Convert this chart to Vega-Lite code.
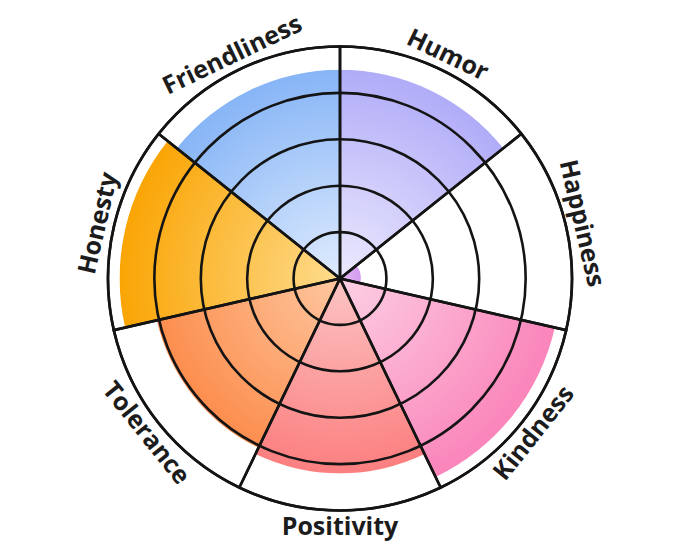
{
  "$schema": "https://vega.github.io/schema/vega-lite/v6.json",
  "width": 680,
  "height": 557,
  "autosize": {"type": "fit", "contains": "padding"},
  "padding": 0,
  "background": "white",
  "config": {"view": {"stroke": null}},
  "datasets": {
    "traits": [
      {"idx": 1, "trait": "Humor", "score": 9.0},
      {"idx": 2, "trait": "Happiness", "score": 0.9},
      {"idx": 3, "trait": "Kindness", "score": 9.5},
      {"idx": 4, "trait": "Positivity", "score": 8.4},
      {"idx": 5, "trait": "Tolerance", "score": 8.1},
      {"idx": 6, "trait": "Honesty", "score": 9.5},
      {"idx": 7, "trait": "Friendliness", "score": 9.0}
    ],
    "rings": [
      {"level": 2}, {"level": 4}, {"level": 6}, {"level": 8}, {"level": 10}
    ]
  },
  "layer": [
    {
      "data": {"name": "traits"},
      "mark": {"type": "arc", "strokeWidth": 0},
      "encoding": {
        "theta": {"aggregate": "count", "type": "quantitative", "stack": true},
        "order": {"field": "idx", "type": "quantitative"},
        "detail": [{"field": "trait", "type": "nominal"}, {"field": "score", "type": "quantitative"}],
        "radius": {"value": {"expr": "scale('radius', datum.score)"}},
        "color": {
          "condition": [
            {"test": "datum.trait === 'Humor'", "value": {"gradient": "radial", "x1": 0.109, "y1": 1, "r1": 0, "x2": 0.109, "y2": 1, "r2": 1, "stops": [{"offset": 0, "color": "#eceafe"}, {"offset": 1, "color": "#b1acf8"}]}},
            {"test": "datum.trait === 'Happiness'", "value": {"gradient": "radial", "x1": 0, "y1": 0.70, "r1": 0, "x2": 0, "y2": 0.70, "r2": 1, "stops": [{"offset": 0, "color": "#e2b8f6"}, {"offset": 1, "color": "#d49cf0"}]}},
            {"test": "datum.trait === 'Kindness'", "value": {"gradient": "radial", "x1": 0, "y1": 0.038, "r1": 0, "x2": 0, "y2": 0.038, "r2": 1, "stops": [{"offset": 0, "color": "#fdd0e4"}, {"offset": 1, "color": "#fa86bb"}]}},
            {"test": "datum.trait === 'Positivity'", "value": {"gradient": "radial", "x1": 0.5, "y1": 0, "r1": 0, "x2": 0.5, "y2": 0, "r2": 1, "stops": [{"offset": 0, "color": "#fcc4c4"}, {"offset": 1, "color": "#fc7f80"}]}},
            {"test": "datum.trait === 'Tolerance'", "value": {"gradient": "radial", "x1": 1, "y1": 0.038, "r1": 0, "x2": 1, "y2": 0.038, "r2": 1, "stops": [{"offset": 0, "color": "#fec7a0"}, {"offset": 1, "color": "#fc8f50"}]}},
            {"test": "datum.trait === 'Honesty'", "value": {"gradient": "radial", "x1": 1, "y1": 0.70, "r1": 0, "x2": 1, "y2": 0.70, "r2": 1, "stops": [{"offset": 0, "color": "#fedc8e"}, {"offset": 1, "color": "#faa505"}]}}
          ],
          "value": {"gradient": "radial", "x1": 0.891, "y1": 1, "r1": 0, "x2": 0.891, "y2": 1, "r2": 1, "stops": [{"offset": 0, "color": "#e0ecfe"}, {"offset": 1, "color": "#87b5f6"}]}
        }
      }
    },
    {
      "data": {"name": "rings"},
      "mark": {"type": "arc", "filled": false, "stroke": "#141414", "strokeWidth": 2.6},
      "encoding": {
        "radius": {"field": "level", "type": "quantitative", "stack": null, "scale": {"domain": [0, 10], "range": [0, 232], "zero": true}}
      }
    },
    {
      "data": {"name": "traits"},
      "mark": {"type": "arc", "filled": false, "stroke": "#141414", "strokeWidth": 2.6},
      "encoding": {
        "theta": {"aggregate": "count", "type": "quantitative", "stack": true},
        "order": {"field": "idx", "type": "quantitative"},
        "radius": {"datum": 10, "type": "quantitative"}
      }
    },
    {
      "data": {"name": "traits"},
      "mark": {"type": "text", "font": "Open Sans", "fontWeight": "bold", "fontSize": 25, "color": "#1c1c1c", "align": "center", "baseline": "middle", "radius": 248},
      "encoding": {
        "theta": {"aggregate": "count", "type": "quantitative", "stack": true},
        "order": {"field": "idx", "type": "quantitative"},
        "text": {"field": "trait", "type": "nominal"},
        "angle": {
          "field": "idx",
          "type": "quantitative",
          "legend": null,
          "scale": {
            "type": "linear",
            "domain": [1, 2, 3, 4, 5, 6, 7],
            "range": [25.7, 77.1, 308.6, 360, 411.4, 282.9, 334.3]
          }
        }
      }
    }
  ]
}
